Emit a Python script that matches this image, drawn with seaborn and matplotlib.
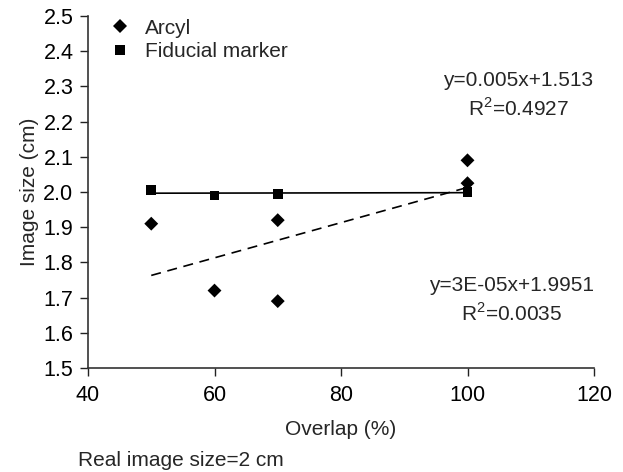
import numpy as np
import pandas as pd
import seaborn as sns
import matplotlib.pyplot as plt

# values
arcyl_x = [50, 60, 70, 70, 100, 100]
arcyl_y = [1.91, 1.72, 1.92, 1.69, 2.09, 2.025]
fid_x = [50, 60, 70, 100]
fid_y = [2.005, 1.99, 1.995, 2.0]
series = ["Arcyl", "Fiducial marker"]
fit_slope = [0.005, 3e-05]
fit_icept = [1.513, 1.9951]
fit_labels = ["y=0.005x+1.513\nR$^2$=0.4927", "y=3E-05x+1.9951\nR$^2$=0.0035"]

df = pd.concat([
    pd.DataFrame({"x": arcyl_x, "y": arcyl_y, "kind": series[0]}),
    pd.DataFrame({"x": fid_x, "y": fid_y, "kind": series[1]}),
])

sns.set_style("ticks")
plt.rcParams["font.family"] = ["Liberation Sans", "DejaVu Sans"]
plt.rcParams["mathtext.fontset"] = "custom"
plt.rcParams["mathtext.rm"] = "Liberation Sans"

fs = 15
fig = plt.figure(figsize=(6.23, 4.72), dpi=100)
ax = fig.add_axes([88 / 623, 1 - 368 / 472, (594 - 88) / 623, (368 - 16) / 472])

sns.scatterplot(data=df, x="x", y="y", style="kind", markers={"Arcyl": "D", "Fiducial marker": "s"},
                color="black", s=50, edgecolor="black", linewidth=0, ax=ax, zorder=3)

# trend lines from the printed equations
for xs, m, b, ls in [(arcyl_x, fit_slope[0], fit_icept[0], (0, (6, 4))), (fid_x, fit_slope[1], fit_icept[1], "-")]:
    xx = np.array([min(xs), max(xs)])
    ax.plot(xx, m * xx + b, color="black", linestyle=ls, linewidth=1.2, zorder=2)

ax.text(108.0, 2.275, fit_labels[0], ha="center", va="center", fontsize=fs, linespacing=1.4)
ax.text(107.0, 1.692, fit_labels[1], ha="center", va="center", fontsize=fs, linespacing=1.4)

ax.set_xlim(40, 120)
ax.set_ylim(1.5, 2.5)
ax.set_xticks(np.arange(40, 121, 20))
ax.set_yticks(np.arange(1.5, 2.51, 0.1))
ax.set_yticklabels([f"{v:.1f}" for v in np.arange(1.5, 2.51, 0.1)])
ax.tick_params(labelsize=15.5, length=6, width=1, direction="out", colors="#222222", labelcolor="black")
ax.tick_params(axis="y", pad=4.5)
ax.tick_params(axis="x", pad=6)
ax.set_xlabel("Overlap (%)", fontsize=fs, labelpad=10)
ax.set_ylabel("Image size (cm)", fontsize=fs, labelpad=3)
for s in ["left", "bottom"]:
    ax.spines[s].set_linewidth(1.2)
    ax.spines[s].set_color("#333333")
sns.despine(ax=ax)

leg = ax.legend(loc="upper left", bbox_to_anchor=(0.006, 1.016), frameon=False, fontsize=fs,
                handletextpad=0.2, labelspacing=0.2, borderaxespad=0)
fig.text(78 / 623, 1 - 460 / 472, "Real image size=2 cm", fontsize=fs, va="center")

fig.savefig("out.png", dpi=100)
